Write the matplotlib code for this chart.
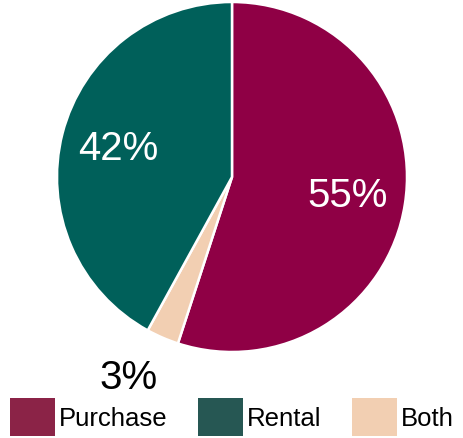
import numpy as np
import matplotlib.pyplot as plt
from matplotlib.patches import Patch

plt.rcParams["font.family"] = ["Liberation Sans", "DejaVu Sans"]

# data (clockwise from top)
labels = ["Purchase", "Both", "Rental"]
values = [55, 3, 42]
pie_colors = ["#8f0045", "#f2cfb2", "#00605a"]

legend_labels = ["Purchase", "Rental", "Both"]
legend_colors = ["#8b2347", "#265753", "#f2cfb2"]

fig = plt.figure(figsize=(4.64, 4.39), dpi=100)
ax = fig.add_axes([57 / 464, 86 / 439, 350 / 464, 350 / 439])

wedges, texts, autotexts = ax.pie(
    values,
    colors=pie_colors,
    startangle=90,
    counterclock=False,
    autopct="%d%%",
    pctdistance=0.67,
    wedgeprops=dict(edgecolor="white", linewidth=1.8),
    textprops=dict(fontsize=29, color="white"),
)
ax.set_xlim(-1, 1)
ax.set_ylim(-1, 1)
ax.set_aspect("equal")

# small slice label goes outside
w = wedges[1]
mid = np.deg2rad((w.theta1 + w.theta2) / 2 - 4)
autotexts[1].set_position((1.29 * np.cos(mid), 1.29 * np.sin(mid)))
autotexts[1].set_color("black")

handles = [Patch(facecolor=c, edgecolor="none") for c in legend_colors]
fig.legend(
    handles,
    legend_labels,
    loc="lower left",
    bbox_to_anchor=(-0.007, -0.025),
    ncol=3,
    frameon=False,
    fontsize=18.5,
    handlelength=1.75,
    handleheight=1.9,
    handletextpad=0.15,
    columnspacing=1.2,
    borderaxespad=0.1,
)

fig.savefig("out.png", dpi=100)
